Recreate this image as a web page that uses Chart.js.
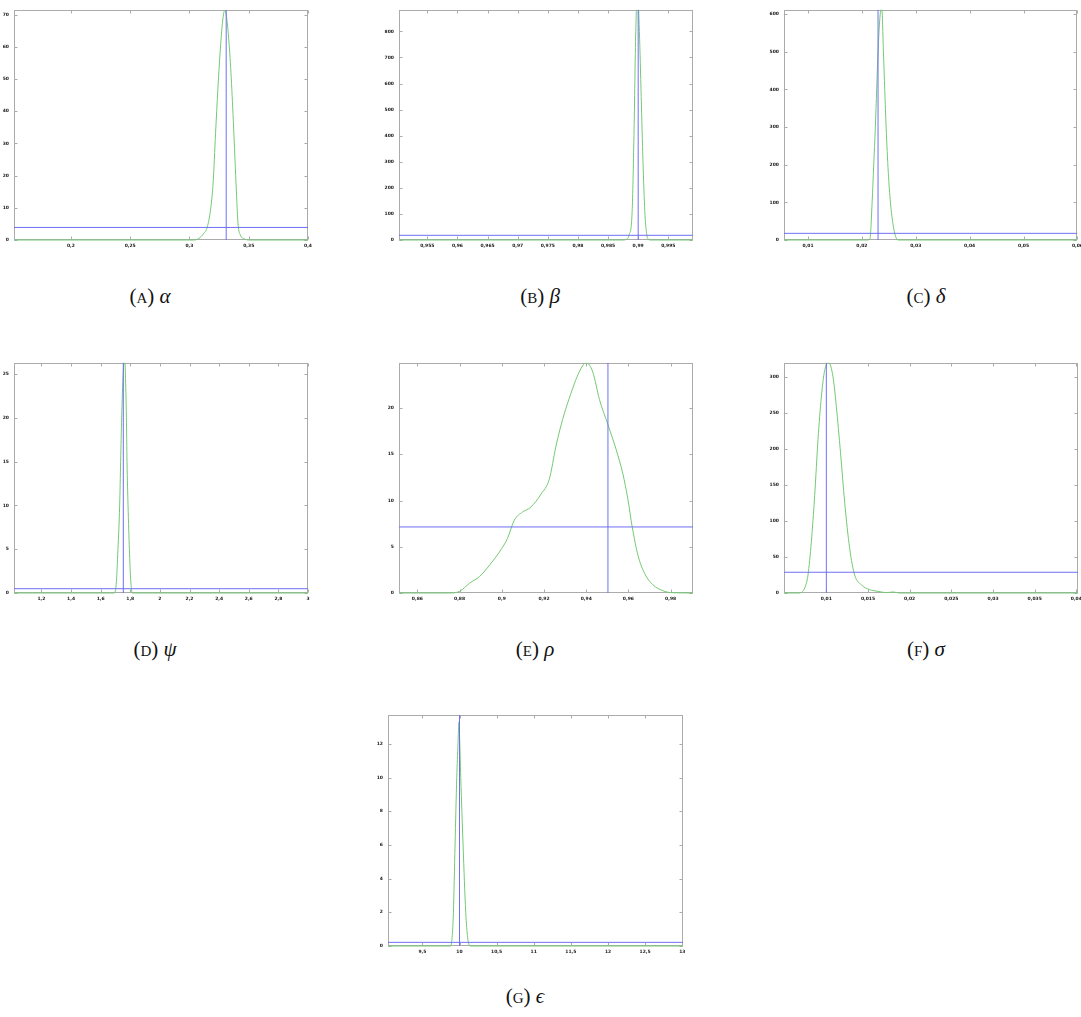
<!DOCTYPE html>
<html>
<head>
<meta charset="utf-8">
<script src="https://cdn.jsdelivr.net/npm/chart.js@4.4.1/dist/chart.umd.min.js"></script>
<style>
  body { margin: 0; background: #fff; width: 1081px; height: 1017px; position: relative; overflow: hidden; }
  .box { position: absolute; }
  .cap { position: absolute; font-family: "Liberation Serif", "DejaVu Serif", serif; font-size: 21px; line-height: 22px; color: #111; transform: translateX(-50%); white-space: nowrap; }
  .cap .sc { font-variant: small-caps; }
</style>
</head>
<body>

<script>
// posterior densities (green)
const alphaX = [0.152, 0.304, 0.308, 0.312, 0.315, 0.318, 0.32, 0.322, 0.324, 0.326, 0.328, 0.3297, 0.331, 0.333, 0.335, 0.337, 0.339, 0.341, 0.343, 0.346, 0.35, 0.4];
const alphaY = [0, 0, 0.5, 2, 4, 10, 18, 33, 47, 59, 68, 71.3, 70, 63, 52, 37, 20, 5, 1.5, 0.4, 0, 0];

const betaX = [0.9503, 0.9875, 0.988, 0.9885, 0.989, 0.9893, 0.9896, 0.9899, 0.9902, 0.9905, 0.9908, 0.9911, 0.9914, 0.9917, 0.992, 0.9991];
const betaY = [0, 0, 2, 20, 110, 400, 800, 950, 800, 550, 300, 110, 25, 3, 0, 0];

const deltaX = [0.00555, 0.021, 0.0215, 0.0219, 0.0222, 0.0225, 0.023, 0.0234, 0.0237, 0.024, 0.0245, 0.0249, 0.0253, 0.0258, 0.0262, 0.0267, 0.06];
const deltaY = [0, 0, 3, 100, 200, 300, 500, 600, 615, 500, 300, 180, 100, 40, 12, 0, 0];

const psiX = [1.015, 1.69, 1.705, 1.717, 1.7285, 1.735, 1.742, 1.752, 1.762, 1.767, 1.774, 1.778, 1.785, 1.794, 1.803, 1.814, 3];
const psiY = [0, 0, 1, 5, 10, 15, 20, 25, 27, 25, 20, 15, 10, 5, 1.5, 0, 0];

const rhoX = [0.8513, 0.8753, 0.88, 0.8848, 0.8895, 0.8943, 0.9, 0.9027, 0.9059, 0.9098, 0.9138, 0.9186, 0.9225, 0.9257, 0.9288, 0.932, 0.9367, 0.94, 0.9431, 0.9463, 0.9503, 0.9542, 0.9574, 0.9597, 0.9618, 0.9645, 0.9676, 0.9716, 0.9763, 0.9803, 0.9906];
const rhoY = [0, 0, 0.18, 1.07, 1.79, 3.04, 4.82, 5.9, 7.86, 8.75, 9.29, 10.7, 12.3, 15.9, 18.75, 21.07, 23.9, 24.9, 23.9, 20.9, 18.2, 15.5, 12.86, 10.2, 7.14, 4.1, 2.14, 0.89, 0.25, 0.04, 0];

const sigmaX = [0.00492, 0.0067, 0.0074, 0.0078, 0.0082, 0.0086, 0.009, 0.0094, 0.0098, 0.0103, 0.0108, 0.0112, 0.0117, 0.0122, 0.0128, 0.0134, 0.0142, 0.0152, 0.0162, 0.0172, 0.018, 0.0188, 0.0402];
const sigmaY = [0, 0, 6.9, 25, 71, 135, 213, 272, 309, 320, 300, 259, 195, 126, 62, 25, 11.4, 4.6, 2.3, 0.5, 1.4, 0, 0];

const epsX = [9.037, 9.88, 9.9, 9.918, 9.94, 9.963, 9.98, 9.993, 10.0, 10.017, 10.048, 10.084, 10.11, 10.14, 13.01];
const epsY = [0, 0, 0.5, 2, 6, 10, 12, 13.3, 12.6, 10, 6, 2, 0.5, 0, 0];

// blue reference lines: vertical position and horizontal level per panel
const vLines = [0.331, 0.99, 0.023, 1.753, 0.9503, 0.01, 10.0];
const hLines = [3.9, 18, 17.7, 0.49, 7.14, 28.8, 0.217];

// tick labels
const alphaXTicks = [0.2, 0.25, 0.3, 0.35, 0.4];
const alphaYTicks = [0, 10, 20, 30, 40, 50, 60, 70];
const betaXTicks = [0.955, 0.96, 0.965, 0.97, 0.975, 0.98, 0.985, 0.99, 0.995];
const betaYTicks = [0, 100, 200, 300, 400, 500, 600, 700, 800];
const deltaXTicks = [0.01, 0.02, 0.03, 0.04, 0.05, 0.06];
const deltaYTicks = [0, 100, 200, 300, 400, 500, 600];
const psiXTicks = [1.2, 1.4, 1.6, 1.8, 2, 2.2, 2.4, 2.6, 2.8, 3];
const psiYTicks = [0, 5, 10, 15, 20, 25];
const rhoXTicks = [0.86, 0.88, 0.9, 0.92, 0.94, 0.96, 0.98];
const rhoYTicks = [0, 5, 10, 15, 20];
const sigmaXTicks = [0.01, 0.015, 0.02, 0.025, 0.03, 0.035, 0.04];
const sigmaYTicks = [0, 50, 100, 150, 200, 250, 300];
const epsXTicks = [9.5, 10, 10.5, 11, 11.5, 12, 12.5, 13];
const epsYTicks = [0, 2, 4, 6, 8, 10, 12];

const captions = [['a', 'α'], ['b', 'β'], ['c', 'δ'], ['d', 'ψ'], ['e', 'ρ'], ['f', 'σ'], ['g', 'ϵ']];

// placement of each plot box on the page and its axis ranges
const panels = [
  { x: alphaX, y: alphaY, xt: alphaXTicks, yt: alphaYTicks, xMin: 0.152, xMax: 0.4, yMax: 71.5, left: 14, top: 8, w: 294, h: 232, capX: 150, capY: 285 },
  { x: betaX, y: betaY, xt: betaXTicks, yt: betaYTicks, xMin: 0.9503, xMax: 0.9991, yMax: 883, left: 399, top: 8, w: 294, h: 232, capX: 540, capY: 285 },
  { x: deltaX, y: deltaY, xt: deltaXTicks, yt: deltaYTicks, xMin: 0.00555, xMax: 0.06, yMax: 612, left: 784, top: 8, w: 294, h: 232, capX: 926, capY: 285 },
  { x: psiX, y: psiY, xt: psiXTicks, yt: psiYTicks, xMin: 1.015, xMax: 3, yMax: 26.3, left: 14, top: 361, w: 294, h: 232, capX: 155, capY: 638 },
  { x: rhoX, y: rhoY, xt: rhoXTicks, yt: rhoYTicks, xMin: 0.8513, xMax: 0.9906, yMax: 24.9, left: 399, top: 361, w: 294, h: 232, capX: 535, capY: 638 },
  { x: sigmaX, y: sigmaY, xt: sigmaXTicks, yt: sigmaYTicks, xMin: 0.00492, xMax: 0.0402, yMax: 319.7, left: 784, top: 361, w: 294, h: 232, capX: 926, capY: 638 },
  { x: epsX, y: epsY, xt: epsXTicks, yt: epsYTicks, xMin: 9.037, xMax: 13.01, yMax: 13.73, left: 388, top: 713, w: 295, h: 233, capX: 525, capY: 985 }
];

const PADL = 30, PADT = 6, PADR = 8, PADB = 14;
const green = '#74c974';
const blue = '#6f6ff5';
const frameGray = '#ababab';

// frame on all four sides with inward tick marks, drawn under the curves
const framePlugin = {
  id: 'frame',
  beforeDatasetsDraw(chart) {
    const ctx = chart.ctx, a = chart.chartArea;
    const l = Math.round(a.left) + 0.5, r = Math.round(a.right) - 0.5;
    const t = Math.round(a.top) + 0.5, b = Math.round(a.bottom) - 0.5;
    ctx.save();
    ctx.strokeStyle = frameGray;
    ctx.lineWidth = 1;
    ctx.strokeRect(l, t, r - l, b - t);
    ctx.beginPath();
    chart.scales.x.ticks.forEach(tk => {
      const px = Math.round(chart.scales.x.getPixelForValue(tk.value)) + 0.5;
      ctx.moveTo(px, b); ctx.lineTo(px, b - 3);
      ctx.moveTo(px, t); ctx.lineTo(px, t + 3);
    });
    chart.scales.y.ticks.forEach(tk => {
      const py = Math.round(chart.scales.y.getPixelForValue(tk.value)) + 0.5;
      ctx.moveTo(l, py); ctx.lineTo(l + 3, py);
      ctx.moveTo(r, py); ctx.lineTo(r - 3, py);
    });
    ctx.stroke();
    ctx.restore();
  }
};

const tickFont = { family: 'DejaVu Sans', size: 4.5, weight: 'bold' };
const fmt = v => String(v).replace('.', ',');

panels.forEach((p, i) => {
  const div = document.createElement('div');
  div.className = 'box';
  const cw = p.w + PADL + PADR, chh = p.h + PADT + PADB;
  div.style.left = (p.left - PADL) + 'px';
  div.style.top = (p.top - PADT) + 'px';
  div.style.width = cw + 'px';
  div.style.height = chh + 'px';
  const canvas = document.createElement('canvas');
  canvas.width = cw; canvas.height = chh;
  div.appendChild(canvas);
  document.body.appendChild(div);

  const cap = document.createElement('div');
  cap.className = 'cap';
  cap.style.left = p.capX + 'px';
  cap.style.top = p.capY + 'px';
  cap.innerHTML = '(<span class="sc">' + captions[i][0] + '</span>) <i>' + captions[i][1] + '</i>';
  document.body.appendChild(cap);

  new Chart(canvas.getContext('2d'), {
    type: 'line',
    data: {
      datasets: [
        { data: [{ x: vLines[i], y: 0 }, { x: vLines[i], y: p.yMax }], borderColor: blue, borderWidth: 1, pointRadius: 0 },
        { data: [{ x: p.xMin, y: hLines[i] }, { x: p.xMax, y: hLines[i] }], borderColor: blue, borderWidth: 1, pointRadius: 0 },
        { data: p.x.map((v, k) => ({ x: v, y: p.y[k] })), borderColor: green, borderWidth: 1, pointRadius: 0, cubicInterpolationMode: 'monotone', clip: { left: 0, top: 0, right: 0, bottom: 1 } }
      ]
    },
    options: {
      responsive: false,
      animation: false,
      events: [],
      layout: { padding: { left: 0, top: PADT, right: PADR, bottom: 0 } },
      plugins: { legend: { display: false }, tooltip: { enabled: false } },
      scales: {
        x: {
          type: 'linear', min: p.xMin, max: p.xMax,
          grid: { display: false, drawTicks: false },
          border: { display: false },
          afterBuildTicks: s => { s.ticks = p.xt.map(v => ({ value: v })); },
          afterFit: s => { s.height = PADB; },
          ticks: { font: tickFont, color: '#222', padding: 3, maxRotation: 0, autoSkip: false, callback: fmt }
        },
        y: {
          min: 0, max: p.yMax,
          grid: { display: false, drawTicks: false },
          border: { display: false },
          afterBuildTicks: s => { s.ticks = p.yt.map(v => ({ value: v })); },
          afterFit: s => { s.width = PADL; },
          ticks: { font: tickFont, color: '#222', padding: 5, autoSkip: false, callback: fmt }
        }
      }
    },
    plugins: [framePlugin]
  });
});
</script>
</body>
</html>
